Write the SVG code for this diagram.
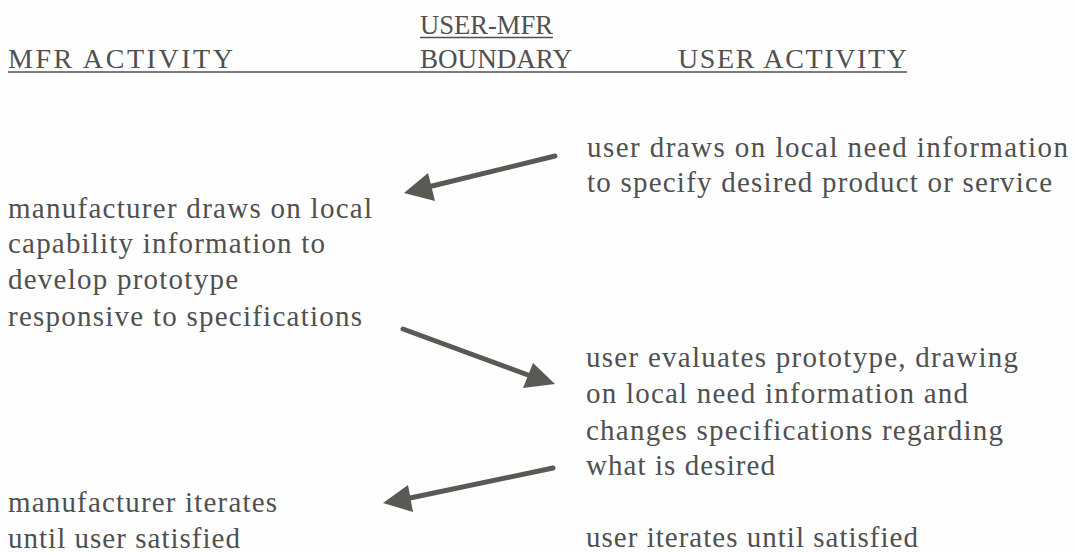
<svg xmlns="http://www.w3.org/2000/svg" width="1076" height="553" viewBox="0 0 1076 553">
<style>
text{font-family:"Liberation Serif","Times New Roman",serif;font-size:29px;fill:#505050}
.hd{font-size:28px}
.ul{stroke:#505050;stroke-width:1.5}
.conn{stroke:#5a5a55;stroke-width:5;stroke-linecap:round;fill:none}
.head{fill:#5a5a55}
</style>
<rect width="1076" height="553" fill="#fefefe"/>
<g id="header">
<text class="hd" x="420" y="34" textLength="133" lengthAdjust="spacingAndGlyphs">USER-MFR</text>
<line class="ul" x1="420" y1="37.5" x2="553" y2="37.5"/>
<text class="hd" x="8" y="68" textLength="225" lengthAdjust="spacing">MFR ACTIVITY</text>
<text class="hd" x="420" y="68" textLength="152" lengthAdjust="spacingAndGlyphs">BOUNDARY</text>
<text class="hd" x="678" y="68" textLength="229" lengthAdjust="spacing">USER ACTIVITY</text>
<line class="ul" x1="8" y1="72" x2="907" y2="72"/>
</g>
<g id="user-specify">
<text x="587" y="157" textLength="481" lengthAdjust="spacing">user draws on local need information</text>
<text x="587" y="192" textLength="465" lengthAdjust="spacing">to specify desired product or service</text>
</g>
<g id="mfr-prototype">
<text x="8" y="218" textLength="364" lengthAdjust="spacing">manufacturer draws on local</text>
<text x="8" y="253" textLength="317" lengthAdjust="spacing">capability information to</text>
<text x="8" y="289" textLength="230" lengthAdjust="spacing">develop prototype</text>
<text x="8" y="326" textLength="354" lengthAdjust="spacing">responsive to specifications</text>
</g>
<g id="user-evaluate">
<text x="586" y="367" textLength="432" lengthAdjust="spacing">user evaluates prototype, drawing</text>
<text x="586" y="403" textLength="382" lengthAdjust="spacing">on local need information and</text>
<text x="586" y="440" textLength="417" lengthAdjust="spacing">changes specifications regarding</text>
<text x="586" y="475" textLength="189" lengthAdjust="spacing">what is desired</text>
</g>
<g id="mfr-iterate">
<text x="8" y="512" textLength="269" lengthAdjust="spacing">manufacturer iterates</text>
<text x="8" y="548" textLength="232" lengthAdjust="spacing">until user satisfied</text>
</g>
<g id="user-iterate">
<text x="586" y="547" textLength="332" lengthAdjust="spacing">user iterates until satisfied</text>
</g>
<g id="connectors">
<line class="conn" x1="555" y1="156" x2="428" y2="187"/>
<polygon class="head" points="404,193 428,173 435,201"/>
<line class="conn" x1="403" y1="329" x2="528" y2="375"/>
<polygon class="head" points="555,384 533,363 523,388"/>
<line class="conn" x1="553" y1="468" x2="410" y2="498"/>
<polygon class="head" points="383,503 408,485 413,512"/>
</g>
</svg>
